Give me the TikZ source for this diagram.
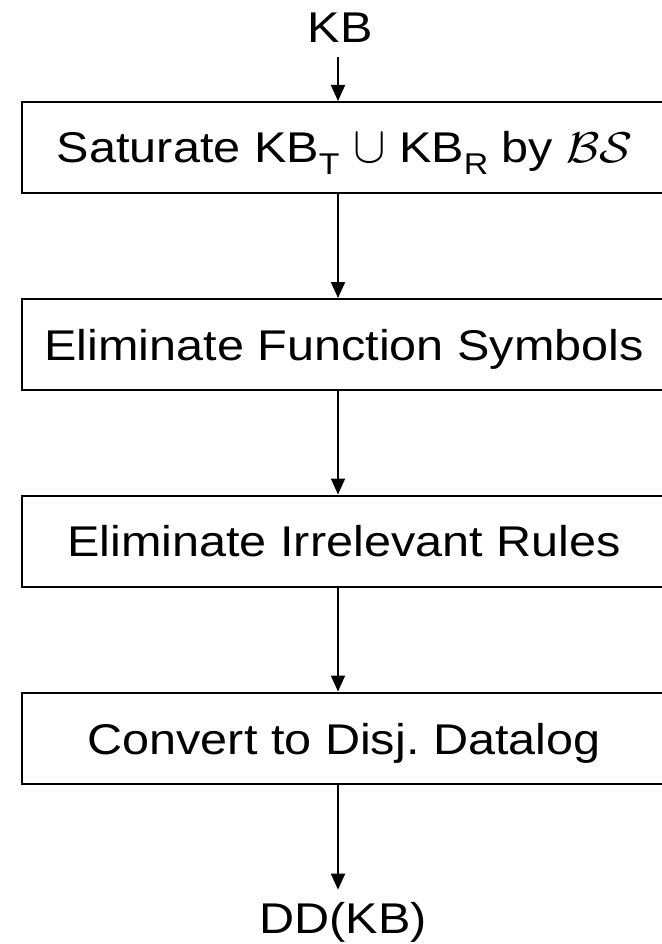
\RequirePackage{fix-cm}
\documentclass[tikz,border=0pt]{standalone}
\usepackage{fontspec}
\setmainfont{Liberation Sans}
\usetikzlibrary{arrows.meta}
\frenchspacing
% subscript in the running sans face
\newcommand\lowsub[1]{\raisebox{-12pt}{\fontsize{30}{30}\selectfont #1}}
% the lettering is set slightly wide
\newcommand\wide[1]{\scalebox{1.13}[1]{#1}}
\tikzset{
  stage/.style={draw=black, line width=2pt, minimum width=680pt,
                minimum height=91pt, anchor=west, inner sep=0pt},
  lbl/.style={font=\fontsize{43}{50}\selectfont, inner sep=0pt, anchor=base},
  arr/.style={line width=2pt, -{Triangle[width=14pt,length=16pt]}},
}
\begin{document}
\begin{tikzpicture}[x=1pt,y=-1pt]
  \useasboundingbox (0,0) rectangle (661,944);
  \fill[white] (0,0) rectangle (661,944);

  % vertical axis the arrows run along
  \coordinate (axis) at (338,0);

  % stage boxes (right side runs past the page edge)
  \node[stage] (b1) at (21,147.5) {};
  \node[stage] (b2) at (21,344.5) {};
  \node[stage] (b3) at (21,541) {};
  \node[stage] (b4) at (21,738) {};

  % labels
  \node[lbl] (kb) at (340,43) {\wide{KB}};
  \node[lbl] (t1) at (345,163)
    {\wide{Saturate KB\lowsub{T} \scalebox{1}[1.2]{$\cup$} KB\lowsub{R} by $\mathcal{BS}$}};
  \node[lbl] (t2) at (344,360) {\wide{Eliminate Function Symbols}};
  \node[lbl] (t3) at (344,556.5) {\wide{Eliminate Irrelevant Rules}};
  \node[lbl] (t4) at (344,754) {\wide{Convert to Disj. Datalog}};
  \node[lbl] (dd) at (343,933) {\wide{DD(KB)}};

  % connectors
  \draw[arr] ([yshift=-14pt]kb.south -| axis) -- (b1.north -| axis);
  \draw[arr] (b1.south -| axis) -- (b2.north -| axis);
  \draw[arr] (b2.south -| axis) -- (b3.north -| axis);
  \draw[arr] (b3.south -| axis) -- (b4.north -| axis);
  \draw[arr] (b4.south -| axis) -- ([yshift=12pt]dd.north -| axis);
\end{tikzpicture}
\end{document}
